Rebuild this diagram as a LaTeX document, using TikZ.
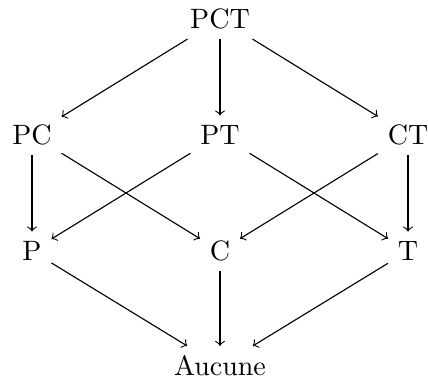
\documentclass[tikz,border=0pt]{standalone}
\begin{document}
\begin{tikzpicture}[x=0.357pt,y=-0.357pt,
  lattice/.style={inner sep=0.333em},
  cover/.style={->}]
\useasboundingbox (0,0) rectangle (428,383);
% top element
\node[lattice] (pct) at (220,19) {PCT};
% pairs
\node[lattice] (pc) at (32,135) {PC};
\node[lattice] (pt) at (220,135) {PT};
\node[lattice] (ct) at (408,135) {CT};
% singletons
\node[lattice] (p) at (32,251) {P};
\node[lattice] (c) at (220,251) {C};
\node[lattice] (t) at (408,251) {T};
% bottom element
\node[lattice] (none) at (220,366) {Aucune};
% covering relations
\draw[cover] (pct) -- (pc);
\draw[cover] (pct) -- (pt);
\draw[cover] (pct) -- (ct);
\draw[cover] (pc) -- (p);
\draw[cover] (pc) -- (c);
\draw[cover] (pt) -- (p);
\draw[cover] (pt) -- (t);
\draw[cover] (ct) -- (c);
\draw[cover] (ct) -- (t);
\draw[cover] (p) -- (none);
\draw[cover] (c) -- (none);
\draw[cover] (t) -- (none);
\end{tikzpicture}
\end{document}
